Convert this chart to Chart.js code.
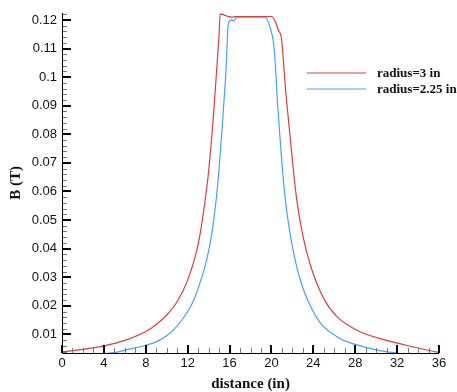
<!DOCTYPE html>
<html>
<head>
<meta charset="utf-8">
<script src="https://cdn.jsdelivr.net/npm/chart.js@4/dist/chart.umd.min.js"></script>
<style>
  html, body { margin: 0; padding: 0; background: #fff; }
  #wrap { width: 457px; height: 392px; }
</style>
</head>
<body>
<div id="wrap"><canvas id="chart"></canvas></div>
<script>
// values
const RED_LABEL = 'radius=3 in';
const RED_X = [0, 2, 4, 6, 8, 9, 10, 11, 12, 13, 13.5, 14.0, 14.46, 14.79, 15.0, 15.1, 15.5, 15.9, 16.2, 16.6,
  20.0, 20.36, 20.68, 20.94, 21.04, 21.08, 21.32, 21.6, 22.0, 22.4, 23.0, 23.8, 25.0, 26.26, 28.2, 31.0, 33.6, 35.7, 36];
const RED_B = [0.0039, 0.0048, 0.006, 0.0079, 0.011, 0.0135, 0.0168, 0.0215, 0.029, 0.0415, 0.0525, 0.067, 0.0864, 0.1037, 0.115, 0.1221, 0.1217, 0.1212, 0.1210, 0.1212,
  0.1212, 0.1195, 0.1163, 0.114, 0.1106, 0.1089, 0.0968, 0.086, 0.071, 0.0575, 0.0445, 0.0333, 0.0225, 0.0162, 0.0114, 0.0079, 0.0056, 0.0039, 0.0037];

const BLUE_LABEL = 'radius=2.25 in';
const BLUE_X = [0, 2, 4, 5, 6, 8, 9, 10, 11, 12, 12.55, 13, 13.67, 14.07, 14.3, 14.7, 15.0, 15.26, 15.4, 15.68, 15.85, 16.0, 16.2, 16.4, 16.65,
  19.4, 19.9, 20.2, 20.36, 20.58, 20.78, 21.0, 21.3, 21.7, 22.2, 22.8, 23.4, 24.67, 26.58, 28, 30, 31.4, 33, 36];
const BLUE_B = [0.0022, 0.0027, 0.0033, 0.0036, 0.0045, 0.0062, 0.0074, 0.0095, 0.013, 0.018, 0.0218, 0.0262, 0.034, 0.0405, 0.0452, 0.0564, 0.068, 0.0806, 0.088, 0.1038, 0.1175, 0.1196, 0.12, 0.1197, 0.121,
  0.121, 0.117, 0.112, 0.105, 0.091, 0.0806, 0.07, 0.058, 0.047, 0.037, 0.0285, 0.0225, 0.014, 0.0085, 0.0065, 0.0046, 0.0037, 0.003, 0.0022];

const X_TICKS = [0, 4, 8, 12, 16, 20, 24, 28, 32, 36];
const X_TICK_LABELS = ['0', '4', '8', '12', '16', '20', '24', '28', '32', '36'];
const Y_TICKS = [0.01, 0.02, 0.03, 0.04, 0.05, 0.06, 0.07, 0.08, 0.09, 0.1, 0.11, 0.12];
const Y_TICK_LABELS = ['0.01', '0.02', '0.03', '0.04', '0.05', '0.06', '0.07', '0.08', '0.09', '0.1', '0.11', '0.12'];

const X_MIN = 0, X_MAX = 36, X_MINOR = 1;
const Y_MIN = 0.0035, Y_MAX = 0.1225, Y_MINOR = 0.002;

const RED = '#e23b3f';
const BLUE = '#44a0ff';

const toPoints = (xs, ys) => xs.map((x, i) => ({ x: x, y: ys[i] }));

// tecplot style axes: inward ticks, major black, minor grey
const axisPlugin = {
  id: 'tecAxes',
  afterDatasetsDraw(chart) {
    const { ctx, chartArea: a, scales: { x, y } } = chart;
    ctx.save();
    ctx.lineCap = 'butt';

    // minor ticks
    ctx.strokeStyle = '#777';
    ctx.lineWidth = 1;
    ctx.beginPath();
    for (let i = 0; i * X_MINOR <= X_MAX + 1e-9; i++) {
      if ((i * X_MINOR) % 4 === 0) continue;
      const px = Math.round(x.getPixelForValue(i * X_MINOR)) + 0.5;
      ctx.moveTo(px, a.bottom);
      ctx.lineTo(px, a.bottom - 5);
    }
    for (let i = 1; i * Y_MINOR <= Y_MAX; i++) {
      const v = i * Y_MINOR;
      if (v < Y_MIN || i % 5 === 0) continue;
      const py = Math.round(y.getPixelForValue(v)) + 0.5;
      ctx.moveTo(a.left, py);
      ctx.lineTo(a.left + 5, py);
    }
    ctx.stroke();

    // major ticks
    ctx.strokeStyle = '#000';
    ctx.lineWidth = 2;
    ctx.beginPath();
    X_TICKS.forEach(v => {
      const px = Math.round(x.getPixelForValue(v));
      ctx.moveTo(px, a.bottom);
      ctx.lineTo(px, a.bottom - 8);
    });
    Y_TICKS.forEach(v => {
      const py = Math.round(y.getPixelForValue(v));
      ctx.moveTo(a.left, py);
      ctx.lineTo(a.left + 9, py);
    });
    ctx.stroke();

    // axis lines
    ctx.lineWidth = 1;
    ctx.beginPath();
    ctx.moveTo(Math.round(a.left) + 0.5, a.top);
    ctx.lineTo(Math.round(a.left) + 0.5, Math.round(a.bottom) + 0.5);
    ctx.lineTo(a.right, Math.round(a.bottom) + 0.5);
    ctx.stroke();
    ctx.restore();
  }
};

// legend drawn inside the plot, lines then bold serif labels
const legendPlugin = {
  id: 'inLegend',
  afterDraw(chart) {
    const ctx = chart.ctx;
    ctx.save();
    ctx.font = 'bold 13px "Liberation Serif"';
    ctx.textBaseline = 'middle';
    chart.data.datasets.forEach((ds, i) => {
      const ly = 73 + i * 16;
      ctx.strokeStyle = ds.borderColor;
      ctx.lineWidth = 1.2;
      ctx.beginPath();
      ctx.moveTo(307, ly);
      ctx.lineTo(366, ly);
      ctx.stroke();
      ctx.fillStyle = '#111';
      ctx.fillText(ds.label, 377, ly + 1);
    });
    ctx.restore();
  }
};

new Chart(document.getElementById('chart'), {
  type: 'line',
  data: {
    datasets: [
      { label: RED_LABEL, data: toPoints(RED_X, RED_B), borderColor: RED, borderWidth: 1.2, pointRadius: 0, cubicInterpolationMode: 'monotone' },
      { label: BLUE_LABEL, data: toPoints(BLUE_X, BLUE_B), borderColor: BLUE, borderWidth: 1.2, pointRadius: 0, cubicInterpolationMode: 'monotone' }
    ]
  },
  options: {
    responsive: true,
    maintainAspectRatio: false,
    animation: false,
    layout: { padding: { top: 9, right: 18, left: 0, bottom: 0 } },
    plugins: { legend: { display: false }, tooltip: { enabled: false } },
    scales: {
      x: {
        type: 'linear',
        min: X_MIN,
        max: X_MAX,
        afterBuildTicks: s => { s.ticks = X_TICKS.map(v => ({ value: v })); },
        afterFit: s => { s.height = 39; },
        grid: { display: false, drawTicks: false },
        border: { display: false },
        ticks: {
          padding: 3,
          maxRotation: 0,
          autoSkip: false,
          color: '#111',
          font: { family: '"Liberation Sans"', size: 13 },
          callback: (v, i) => X_TICK_LABELS[i]
        },
        title: {
          display: true,
          text: 'distance (in)',
          color: '#111',
          font: { family: '"Liberation Serif"', weight: 'bold', size: 15, lineHeight: 1 },
          padding: 0
        }
      },
      y: {
        min: Y_MIN,
        max: Y_MAX,
        afterBuildTicks: s => { s.ticks = Y_TICKS.map(v => ({ value: v })); },
        afterFit: s => { s.width = 62; },
        grid: { display: false, drawTicks: false },
        border: { display: false },
        ticks: {
          padding: 5,
          autoSkip: false,
          color: '#111',
          font: { family: '"Liberation Sans"', size: 13 },
          callback: (v, i) => Y_TICK_LABELS[i]
        },
        title: {
          display: true,
          text: 'B (T)',
          color: '#111',
          font: { family: '"Liberation Serif"', weight: 'bold', size: 15, lineHeight: 1 },
          padding: { top: 9, bottom: 0 }
        }
      }
    }
  },
  plugins: [axisPlugin, legendPlugin]
});
</script>
</body>
</html>
